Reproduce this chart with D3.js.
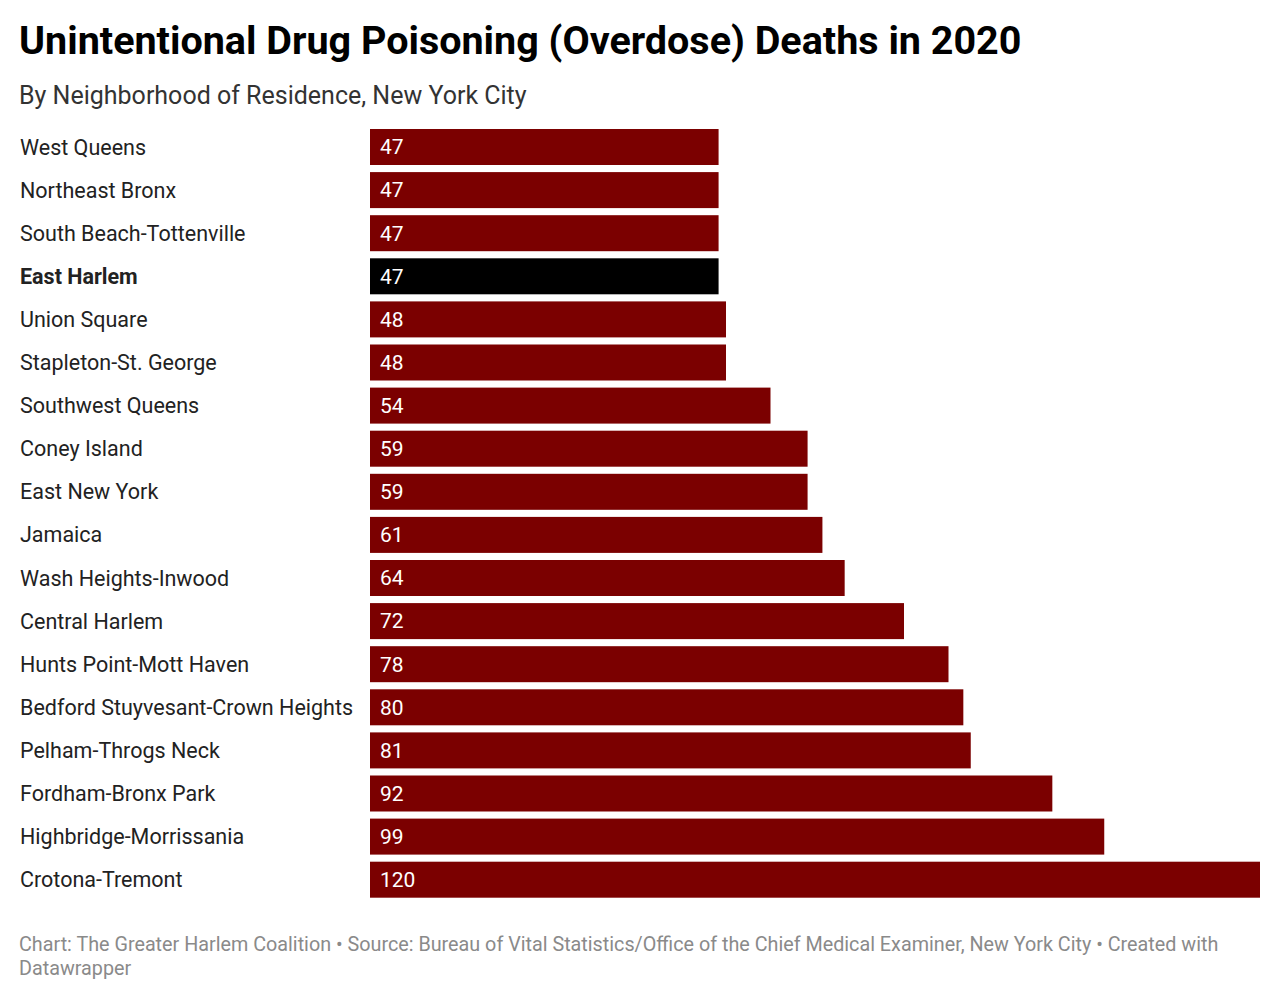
<!DOCTYPE html>
<html><head><meta charset="utf-8">
<script src="https://cdn.jsdelivr.net/npm/d3@7"></script>
<style>body{margin:0;background:#fff;font-family:Roboto,sans-serif}</style>
</head><body>
<svg id="c" width="1280" height="998"></svg>
<script>
const categories = ["West Queens","Northeast Bronx","South Beach-Tottenville","East Harlem","Union Square","Stapleton-St. George","Southwest Queens","Coney Island","East New York","Jamaica","Wash Heights-Inwood","Central Harlem","Hunts Point-Mott Haven","Bedford Stuyvesant-Crown Heights","Pelham-Throgs Neck","Fordham-Bronx Park","Highbridge-Morrissania","Crotona-Tremont"];
const values = [47,47,47,47,48,48,54,59,59,61,64,72,78,80,81,92,99,120];
const highlighted = ["East Harlem"];
const title = "Unintentional Drug Poisoning (Overdose) Deaths in 2020";
const subtitle = "By Neighborhood of Residence, New York City";
const footer1 = "Chart: The Greater Harlem Coalition • Source: Bureau of Vital Statistics/Office of the Chief Medical Examiner, New York City • Created with";
const footer2 = "Datawrapper";

const svg = d3.select("#c");
svg.append("text").attr("x",19).attr("y",54).attr("font-size",39.5).attr("font-weight",700).attr("fill","#000").text(title);
svg.append("text").attr("x",19).attr("y",104).attr("font-size",25).attr("fill","#333").text(subtitle);

const step = 43.1, bw = 36, n = categories.length;
const pad = 1 - bw/step;
const x = d3.scaleLinear().domain([0,120]).range([370,1260]);
const y = d3.scaleBand().domain(categories).range([129,129+step*(n-pad)]).paddingInner(pad).paddingOuter(0);
const g = svg.append("g");
const rows = g.selectAll("g.row").data(categories).join("g").attr("class","row");
rows.append("rect")
  .attr("x",x(0)).attr("y",d=>y(d)).attr("height",y.bandwidth())
  .attr("width",(d,i)=>x(values[i])-x(0))
  .attr("fill",d=>highlighted.includes(d)?"#000":"#7b0000");
rows.append("text")
  .attr("x",20).attr("y",d=>y(d)+y.bandwidth()/2).attr("dy","0.35em")
  .attr("font-size",21.5).attr("fill","#222")
  .attr("font-weight",d=>highlighted.includes(d)?700:400)
  .text(d=>d);
rows.append("text")
  .attr("x",x(0)+10).attr("y",d=>y(d)+y.bandwidth()/2).attr("dy","0.35em")
  .attr("font-size",21).attr("fill","#fff")
  .text((d,i)=>values[i]);

svg.append("text").attr("x",19).attr("y",951).attr("font-size",19.75).attr("fill","#8a8a8a").text(footer1);
svg.append("text").attr("x",19).attr("y",975).attr("font-size",19.75).attr("fill","#8a8a8a").text(footer2);
</script>
</body></html>
